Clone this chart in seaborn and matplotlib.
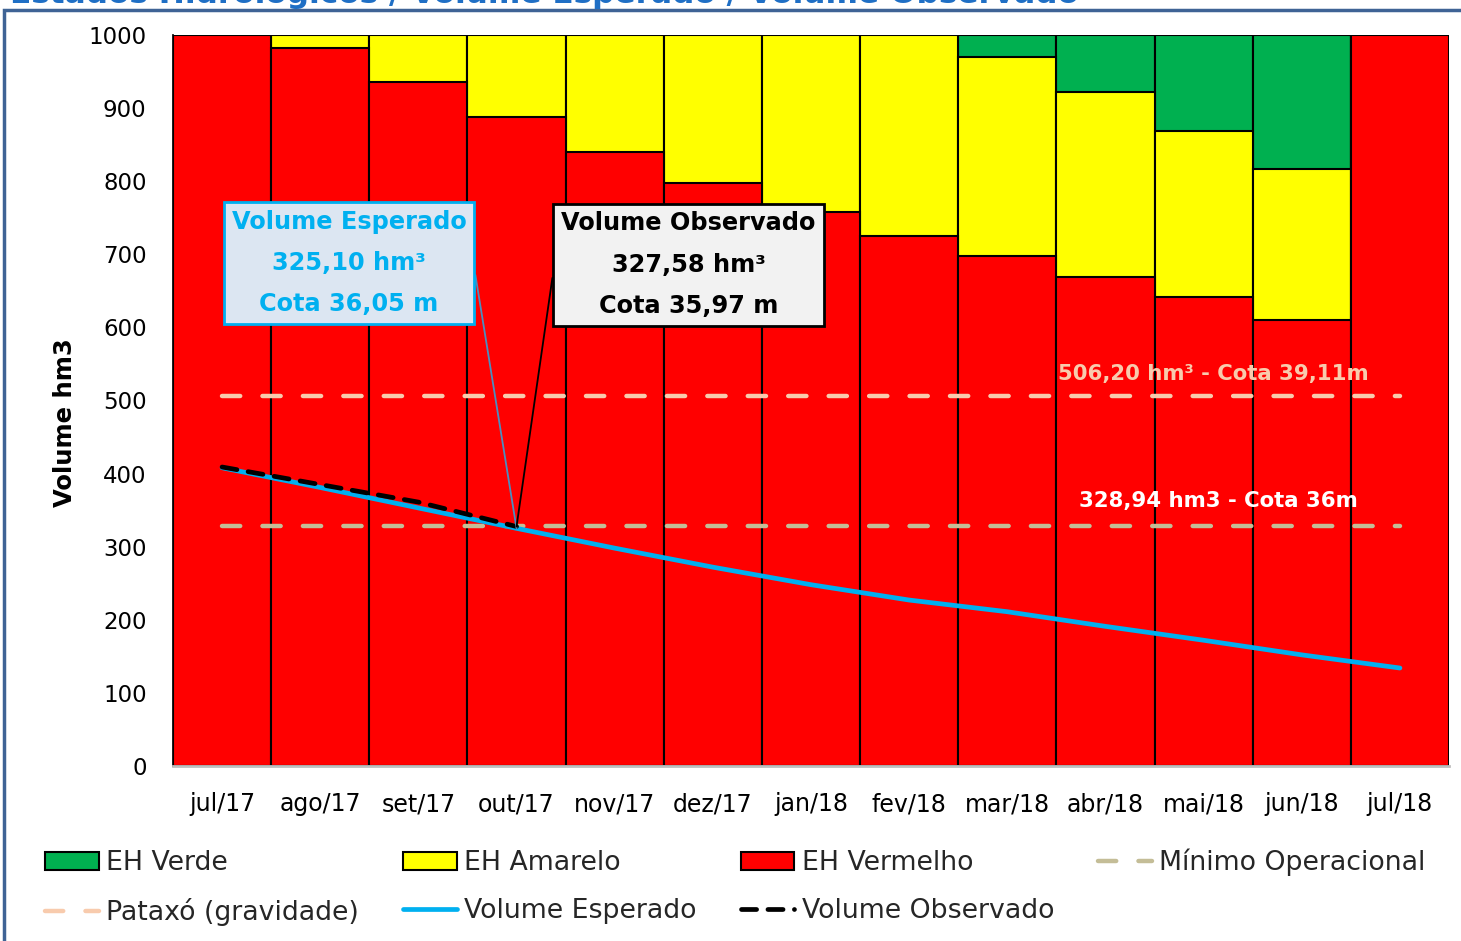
"""Estados hidrológicos do reservatório: volume esperado x volume observado."""

import matplotlib

matplotlib.use("Agg")
import matplotlib.pyplot as plt
import numpy as np
import pandas as pd
import seaborn as sns
from matplotlib.lines import Line2D
from matplotlib.patches import Patch, Rectangle


MESES = ["jul/17", "ago/17", "set/17", "out/17", "nov/17", "dez/17", "jan/18",
         "fev/18", "mar/18", "abr/18", "mai/18", "jun/18", "jul/18"]

# faixas dos estados hidrologicos (hm3), empilhadas de baixo para cima
EH_VERMELHO = [1000, 982, 936, 888, 840, 797, 758, 725, 697, 669, 641, 610, 1000]
EH_AMARELO = [0, 18, 64, 112, 160, 203, 242, 275, 273, 253, 228, 207, 0]
EH_VERDE = [0, 0, 0, 0, 0, 0, 0, 0, 30, 78, 131, 183, 0]

VOLUME_ESPERADO = [408, 381, 353, 325.10, 298, 272, 248, 227, 211, 191, 172, 152, 134]
VOLUME_OBSERVADO = [409, 385, 361, 327.58]

PATAXO = 506.20
MINIMO_OPERACIONAL = 328.94

Y_TICKS = list(range(0, 1001, 100))

VERMELHO = "#FF0000"
AMARELO = "#FFFF00"
VERDE = "#00B050"
AZUL = "#00B0F0"
PESSEGO = "#F8CBAD"
BEGE = "#C4BD97"
TITULO = "#1F6FC5"
MOLDURA = "#3F6395"


def _barras(ax, df, coluna, cor):
    sns.barplot(
        data=df, x="mes", y=coluna, color=cor, saturation=1, width=1,
        edgecolor="black", linewidth=1.5, errorbar=None, ax=ax, zorder=1,
    )


sns.set_theme(style="white")
plt.rcParams["font.family"] = ["DejaVu Sans"]

df = pd.DataFrame({"mes": MESES, "vermelho": EH_VERMELHO,
                   "amarelo": EH_AMARELO, "verde": EH_VERDE})
df["topo_amarelo"] = df["vermelho"] + df["amarelo"]
df["total"] = df["topo_amarelo"] + df["verde"]

fig = plt.figure(figsize=(14.61, 9.41), dpi=100)
ax = fig.add_axes([0.1184, 0.186, 0.8734, 0.7768])

# camadas sobrepostas: total (verde), topo amarelo, topo vermelho
_barras(ax, df, "total", VERDE)
_barras(ax, df, "topo_amarelo", AMARELO)
_barras(ax, df, "vermelho", VERMELHO)

idx = np.arange(len(MESES))
ax.plot([idx[0], idx[-1]], [PATAXO, PATAXO], color=PESSEGO, linewidth=3.2,
        dashes=(4.1, 5.0), dash_capstyle="round", zorder=3)
ax.plot([idx[0], idx[-1]], [MINIMO_OPERACIONAL, MINIMO_OPERACIONAL], color=BEGE,
        linewidth=3.2, dashes=(4.1, 5.0), dash_capstyle="round", zorder=3)

sns.lineplot(x=idx, y=VOLUME_ESPERADO, color=AZUL, linewidth=3.4,
             solid_capstyle="round", ax=ax, zorder=4)
obs = sns.lineplot(x=idx[:len(VOLUME_OBSERVADO)], y=VOLUME_OBSERVADO, color="black",
                   linewidth=3.4, ax=ax, zorder=5)
obs.get_lines()[-1].set_dashes((3.2, 2.4))
obs.get_lines()[-1].set_dash_capstyle("round")

# rotulos das linhas de referencia
ax.annotate("506,20 hm³ - Cota 39,11m", xy=(10.1, PATAXO), xytext=(0, 16),
            textcoords="offset points", ha="center", va="center",
            fontsize=15.3, fontweight="bold", color=PESSEGO, zorder=6)
ax.annotate("328,94 hm3 - Cota 36m", xy=(10.15, MINIMO_OPERACIONAL), xytext=(0, 18),
            textcoords="offset points", ha="center", va="center",
            fontsize=15.3, fontweight="bold", color="white", zorder=6)

# caixas de destaque
ax.annotate(
    "Volume Esperado\n325,10 hm³\nCota 36,05 m",
    xy=(3, VOLUME_ESPERADO[3]), xytext=(0.138, 0.688), textcoords="axes fraction",
    ha="center", va="center", multialignment="center", linespacing=1.9,
    fontsize=17.3, fontweight="bold", color=AZUL, zorder=7,
    bbox=dict(boxstyle="square,pad=0.33", facecolor="#DCE6F2", edgecolor=AZUL, linewidth=2),
    arrowprops=dict(arrowstyle="-", color="#4A8FC0", linewidth=1.3, relpos=(1, 0.5),
                    shrinkA=0, shrinkB=0,
                    connectionstyle="arc,angleA=0,armA=7,angleB=90,armB=0,rad=0"),
)
ax.annotate(
    "Volume Observado\n327,58 hm³\nCota 35,97 m",
    xy=(3, VOLUME_OBSERVADO[3]), xytext=(0.404, 0.686), textcoords="axes fraction",
    ha="center", va="center", multialignment="center", linespacing=1.9,
    fontsize=17.3, fontweight="bold", color="black", zorder=7,
    bbox=dict(boxstyle="square,pad=0.33", facecolor="#F2F2F2", edgecolor="black", linewidth=2),
    arrowprops=dict(arrowstyle="-", color="black", linewidth=1.3, relpos=(0, 0.5),
                    shrinkA=0, shrinkB=0,
                    connectionstyle="arc,angleA=180,armA=7,angleB=90,armB=0,rad=0"),
)

ax.set_xlim(-0.5, len(MESES) - 0.5)
ax.set_ylim(0, 1000)
ax.set_yticks(Y_TICKS)
ax.set_xticks(idx)
ax.set_xticklabels(MESES)
ax.tick_params(axis="both", length=0, colors="black")
ax.tick_params(axis="y", labelsize=16.5, pad=19)
ax.tick_params(axis="x", labelsize=17, pad=19)
ax.set_xlabel("")
ax.set_ylabel("Volume hm3", fontsize=17.5, fontweight="bold", color="black")
ax.yaxis.set_label_coords(-0.0755, 0.47)
for lado in ["top", "right"]:
    ax.spines[lado].set_visible(False)
ax.spines["left"].set_color("black")
ax.spines["bottom"].set_color("#BFBFBF")
ax.spines["bottom"].set_linewidth(2)

# legenda (ordem por coluna para preencher por linha)
h_verde = Patch(facecolor=VERDE, edgecolor="black", linewidth=1.5)
h_amarelo = Patch(facecolor=AMARELO, edgecolor="black", linewidth=1.5)
h_vermelho = Patch(facecolor=VERMELHO, edgecolor="black", linewidth=1.5)
h_minimo = Line2D([], [], color=BEGE, linewidth=3.2, dashes=(4.1, 5.0), dash_capstyle="round")
h_pataxo = Line2D([], [], color=PESSEGO, linewidth=3.2, dashes=(4.1, 5.0), dash_capstyle="round")
h_esperado = Line2D([], [], color=AZUL, linewidth=3.4, solid_capstyle="round")
h_observado = Line2D([], [], color="black", linewidth=3.4, dashes=(3.2, 2.4), dash_capstyle="round")
fig.legend(
    [h_verde, h_pataxo, h_amarelo, h_esperado, h_vermelho, h_observado, h_minimo],
    ["EH Verde", "Pataxó (gravidade)", "EH Amarelo", "Volume Esperado",
     "EH Vermelho", "Volume Observado", "Mínimo Operacional"],
    ncol=4, loc="upper left", bbox_to_anchor=(0.031, 0.098), frameon=False,
    fontsize=19.3, handlelength=2.0, handletextpad=0.27, columnspacing=1.65,
    labelspacing=0.82, borderpad=0, borderaxespad=0,
)

fig.text(10 / 1461, 1 - 3 / 941, "Estados Hidrológicos / Volume Esperado / Volume Observado",
         color=TITULO, fontsize=22.4, fontweight="bold", va="baseline", ha="left")
fig.add_artist(Rectangle((0.003, -0.1), 1.1, 1.0894, transform=fig.transFigure,
                         fill=False, edgecolor=MOLDURA, linewidth=2.5))

fig.savefig("out.png", dpi=100, facecolor="white")
